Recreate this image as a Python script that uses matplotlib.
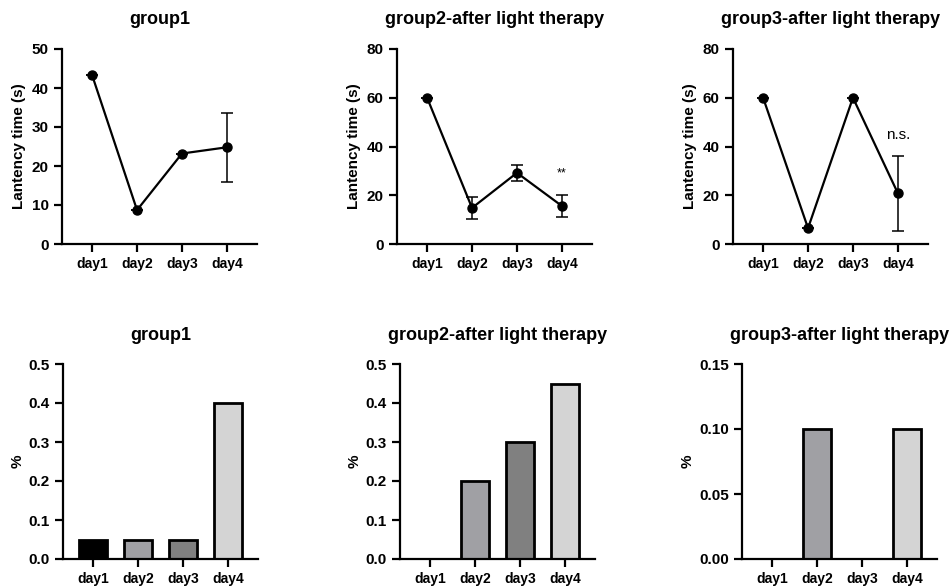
import matplotlib
matplotlib.use("Agg")
import matplotlib.pyplot as plt

plt.rcParams['font.family'] = ['Liberation Sans', 'DejaVu Sans']
plt.rcParams['font.weight'] = 'bold'

days = ["day1", "day2", "day3", "day4"]
titles = ["group1", "group2-after light therapy", "group3-after light therapy"]

# latency (s), mean and error
g1_latency = [43.3, 8.7, 23.2, 24.8]
g1_err = [0, 0, 0, 8.8]
g2_latency = [60, 14.8, 29.2, 15.6]
g2_err = [0, 4.6, 3.2, 4.4]
g3_latency = [60, 6.5, 60, 20.8]
g3_err = [0, 0, 0, 15.5]

# percentage bars
g1_pct = [0.05, 0.05, 0.05, 0.40]
g2_pct = [0.0, 0.20, 0.30, 0.45]
g3_pct = [0.0, 0.10, 0.0, 0.10]
bar_colors = ["#000000", "#a0a0a4", "#808080", "#d4d4d4"]

latency = [g1_latency, g2_latency, g3_latency]
errs = [g1_err, g2_err, g3_err]
pcts = [g1_pct, g2_pct, g3_pct]
lat_max = [50, 80, 80]
lat_ticks = [[0, 10, 20, 30, 40, 50], [0, 20, 40, 60, 80], [0, 20, 40, 60, 80]]
pct_max = [0.5, 0.5, 0.15]
pct_ticks = [[0, 0.1, 0.2, 0.3, 0.4, 0.5], [0, 0.1, 0.2, 0.3, 0.4, 0.5], [0, 0.05, 0.10, 0.15]]
pct_fmt = ["%.1f", "%.1f", "%.2f"]

fig = plt.figure(figsize=(9.53, 5.88), dpi=100)
W, H = 953, 588
top_left = [62, 397, 733]
bot_left = [63, 400, 742]


def style(ax):
    for s in ["top", "right"]:
        ax.spines[s].set_visible(False)
    for s in ["left", "bottom"]:
        ax.spines[s].set_linewidth(1.6)
    ax.tick_params(width=1.6, length=6, direction="out")
    ax.tick_params(axis="x", labelsize=10)
    ax.tick_params(axis="y", labelsize=11)
    ax.set_xlim(-0.67, 3.67)
    ax.set_xticks(range(4))
    ax.set_xticklabels(days, fontweight="bold")


x = list(range(4))
for i in range(3):
    # line plots
    ax = fig.add_axes([top_left[i] / W, 1 - 244 / H, 195 / W, 195 / H])
    style(ax)
    ax.errorbar(x, latency[i], yerr=errs[i], color="black",
                marker="o", markersize=6.5, linewidth=1.6, capsize=4, elinewidth=1.1,
                capthick=1.1)
    ax.set_ylim(0, lat_max[i])
    ax.set_yticks(lat_ticks[i])
    ax.set_ylabel("Lantency time (s)", fontsize=11, fontweight="bold")
    ax.set_title(titles[i], fontsize=13, fontweight="bold", pad=18)
    for lab in ax.get_yticklabels():
        lab.set_fontweight("bold")
    if i == 1:
        ax.text(3, latency[i][3] + errs[i][3] + 9, "**", ha="center", va="center",
                fontsize=9, fontweight="normal")
    if i == 2:
        ax.text(3, latency[i][3] + errs[i][3] + 8.5, "n.s.", ha="center", va="center",
                fontsize=11, fontweight="normal")

    # bar plots
    ax = fig.add_axes([bot_left[i] / W, 1 - 559 / H, 195 / W, 195 / H])
    style(ax)
    ax.bar(x, pcts[i], width=0.63, color=bar_colors, edgecolor="black", linewidth=2)
    ax.set_ylim(0, pct_max[i])
    ax.set_yticks(pct_ticks[i])
    ax.set_yticklabels([pct_fmt[i] % t for t in pct_ticks[i]], fontweight="bold")
    ax.set_ylabel("%", fontsize=11, fontweight="bold", labelpad=3)
    ax.set_title(titles[i], fontsize=13, fontweight="bold", pad=17)

fig.savefig("out.png", dpi=100)
